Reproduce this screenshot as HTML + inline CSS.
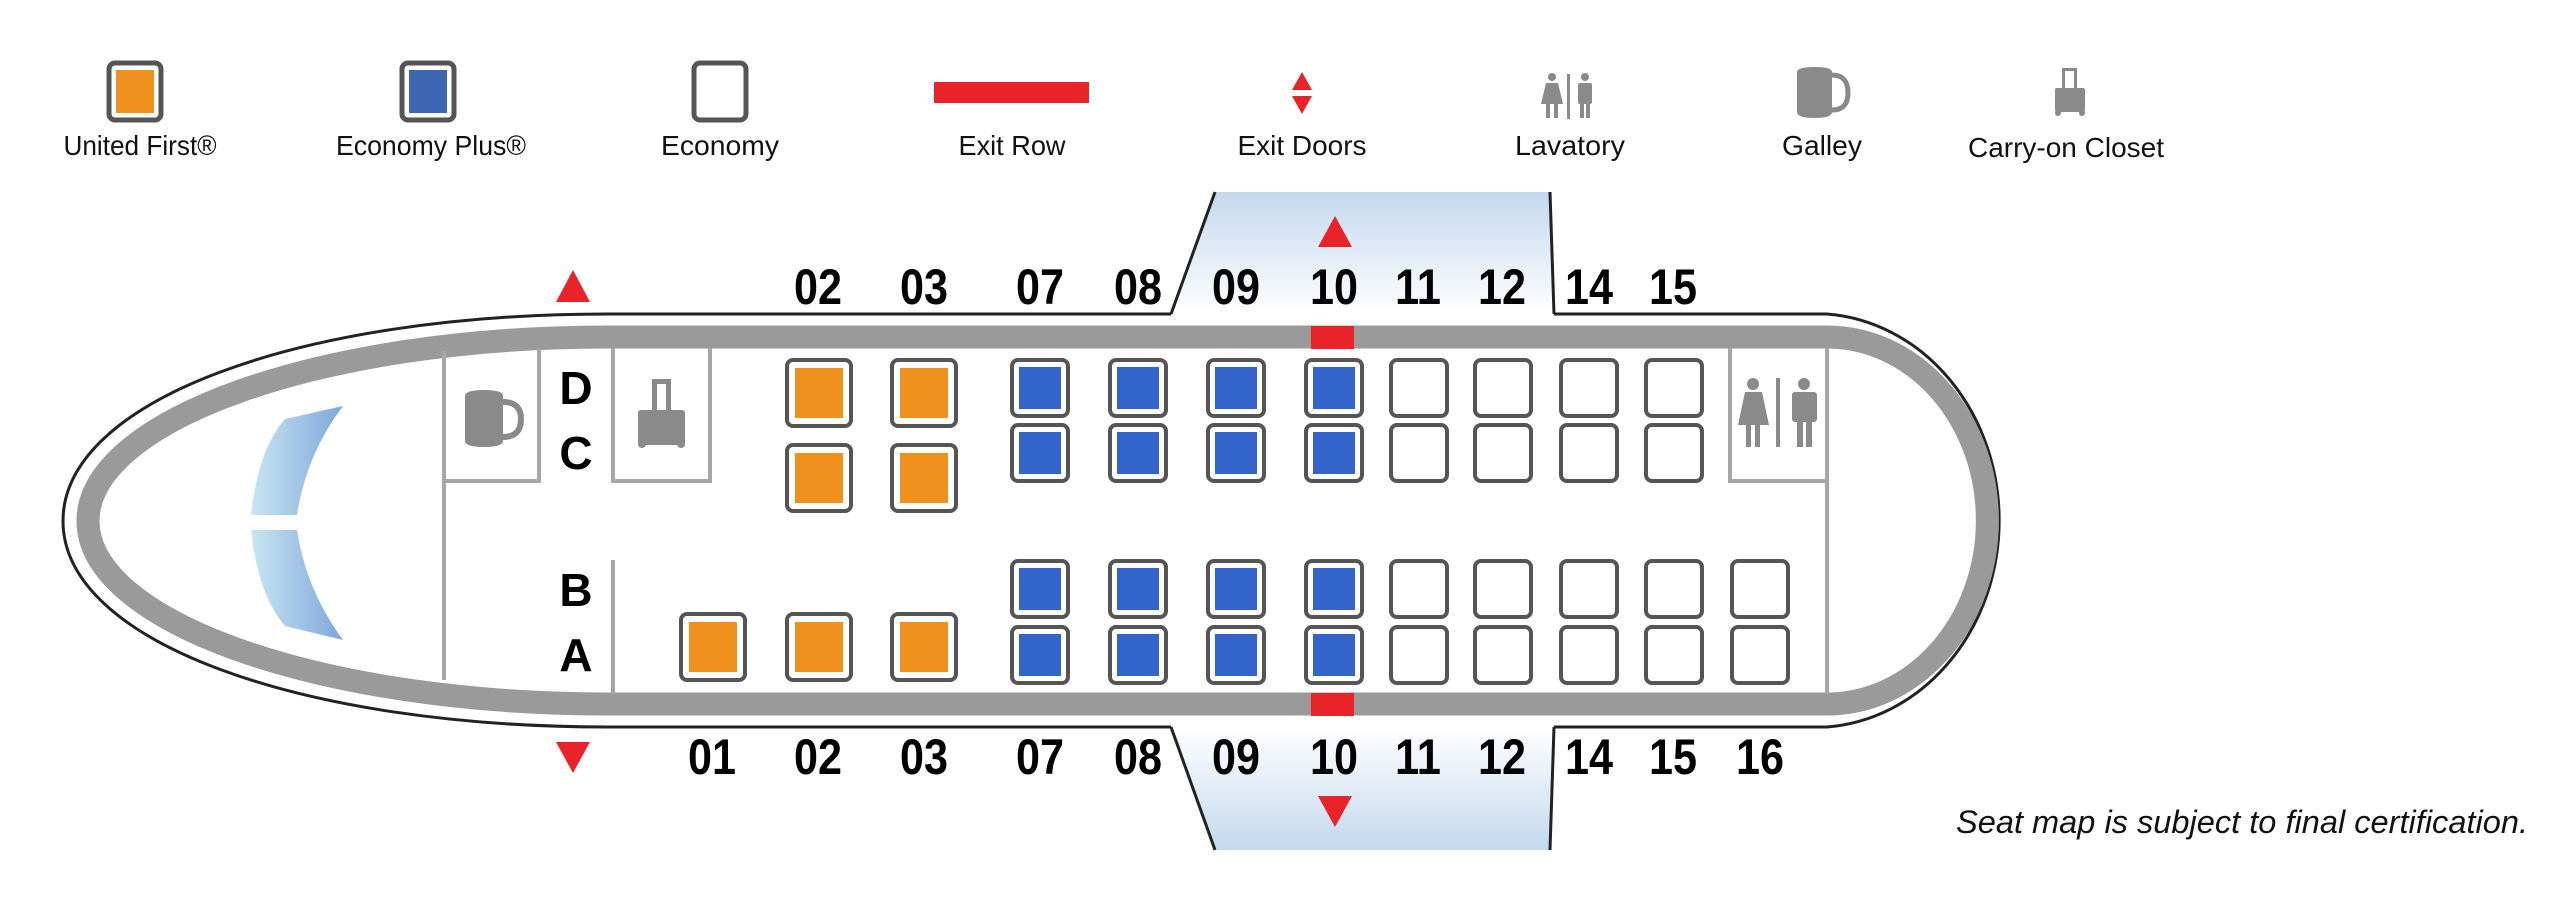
<!DOCTYPE html>
<html><head><meta charset="utf-8"><style>
html,body{margin:0;padding:0;background:#fff;}
svg{display:block;}
.n{font-family:"Liberation Sans Narrow","Liberation Sans",sans-serif;font-weight:bold;font-size:50px;fill:#000;text-anchor:middle;}
.k{font-family:"Liberation Sans",sans-serif;font-weight:bold;font-size:46px;fill:#000;text-anchor:middle;}
.l{font-family:"Liberation Sans",sans-serif;font-size:28px;fill:#111;text-anchor:middle;}
</style></head><body>
<svg width="2560" height="899" viewBox="0 0 2560 899" xmlns="http://www.w3.org/2000/svg">
<defs>
<linearGradient id="dt" x1="0" y1="0" x2="0" y2="1"><stop offset="0" stop-color="#c4d8ee"/><stop offset="1" stop-color="#ffffff"/></linearGradient>
<linearGradient id="db" x1="0" y1="0" x2="0" y2="1"><stop offset="0" stop-color="#ffffff"/><stop offset="1" stop-color="#c4d8ee"/></linearGradient>
<linearGradient id="ws" x1="0" y1="0" x2="1" y2="0"><stop offset="0" stop-color="#c8e6f2"/><stop offset="1" stop-color="#7fa6da"/></linearGradient>
</defs>

<g stroke="#555" stroke-width="5" fill="#fff">
<rect x="109" y="63" width="52" height="57" rx="6"/>
<rect x="402" y="63" width="52" height="57" rx="6"/>
<rect x="694" y="63" width="52" height="57" rx="6"/>
</g>
<rect x="116" y="70" width="38" height="43" fill="#f0901d"/>
<rect x="409" y="70" width="38" height="43" fill="#3d66b3"/>
<rect x="934" y="82" width="155" height="21" fill="#e8232a"/>
<polygon points="1302,72 1292,90 1312,90" fill="#e8232a"/>
<polygon points="1302,114 1292,96 1312,96" fill="#e8232a"/>
<g fill="#8a8a8a">
<circle cx="1552" cy="77" r="4"/><polygon points="1546,83 1558,83 1563,104 1541,104"/><rect x="1546" y="104" width="4" height="14"/><rect x="1554" y="104" width="4" height="14"/>
<rect x="1567" y="74" width="3" height="45"/>
<circle cx="1585" cy="77" r="4"/><rect x="1578" y="83" width="14" height="21" rx="2"/><rect x="1580" y="104" width="4" height="14"/><rect x="1586" y="104" width="4" height="14"/>
<path d="M1797,72 Q1797,67 1815,67 Q1832,67 1832,72 L1832,112 Q1832,118 1815,118 Q1797,118 1797,112 Z"/>
<path d="M1832,75 Q1848,75 1848,93 Q1848,110 1832,110" fill="none" stroke="#8a8a8a" stroke-width="5"/>
<rect x="2062" y="68" width="3" height="20"/><rect x="2074" y="68" width="3" height="20"/><rect x="2062" y="68" width="15" height="3"/>
<rect x="2055" y="88" width="30" height="24" rx="2"/><circle cx="2058" cy="113" r="3"/><circle cx="2082" cy="113" r="3"/>
</g>
<text class="l" x="140" y="155" textLength="153" lengthAdjust="spacingAndGlyphs">United First®</text>
<text class="l" x="431" y="155" textLength="190" lengthAdjust="spacingAndGlyphs">Economy Plus®</text>
<text class="l" x="720" y="155" textLength="118" lengthAdjust="spacingAndGlyphs">Economy</text>
<text class="l" x="1012" y="155" textLength="107" lengthAdjust="spacingAndGlyphs">Exit Row</text>
<text class="l" x="1302" y="155" textLength="129" lengthAdjust="spacingAndGlyphs">Exit Doors</text>
<text class="l" x="1570" y="155" textLength="110" lengthAdjust="spacingAndGlyphs">Lavatory</text>
<text class="l" x="1822" y="155" textLength="80" lengthAdjust="spacingAndGlyphs">Galley</text>
<text class="l" x="2066" y="157" textLength="196" lengthAdjust="spacingAndGlyphs">Carry-on Closet</text>

<polygon points="1215,192 1550,192 1554,314 1171,314" fill="url(#dt)"/>
<polygon points="1171,727 1554,727 1550,850 1215,850" fill="url(#db)"/>
<g stroke="#222" stroke-width="3" fill="none">
<polyline points="1215,192 1171,314"/>
<polyline points="1550,192 1554,314"/>
<polyline points="1171,727 1215,850"/>
<polyline points="1554,727 1550,850"/>
<path d="M1171,314 L608,314 C300,314 63,400 63,521 C63,642 300,727 608,727 L1171,727"/>
<path d="M1554,314 L1827,314 A185 207 0 0 1 1827,727 L1554,727"/>
</g>
<path d="M1827,337 L608,337 C320,337 88,420 88,521 C88,622 320,704 608,704 L1827,704 A160 183 0 0 0 1827,337 Z" fill="#fff" stroke="#9a9a9a" stroke-width="23"/>
<rect x="1311" y="326" width="43" height="23" fill="#e8232a"/>
<rect x="1311" y="693" width="43" height="23" fill="#e8232a"/>

<path d="M251,515 Q258,450 285,419 L343,406 Q306,455 297,515 Z" fill="url(#ws)"/>
<path d="M251,530 Q258,595 285,626 L343,640 Q306,590 297,530 Z" fill="url(#ws)"/>

<g stroke="#a6a6a6" stroke-width="4" fill="none">
<polyline points="444,351 444,481 539,481 539,348"/>
<line x1="444" y1="481" x2="444" y2="680"/>
<polyline points="613,348 613,481 710,481 710,348"/>
<line x1="613" y1="560" x2="613" y2="694"/>
<polyline points="1730,348 1730,481 1827,481"/>
<line x1="1827" y1="348" x2="1827" y2="694"/>
</g>
<g fill="#8a8a8a">
<path d="M465,396 Q465,390 484,390 Q503,390 503,396 L503,441 Q503,447 484,447 Q465,447 465,441 Z"/>
<path d="M503,402 Q521,402 521,419 Q521,437 503,437" fill="none" stroke="#8a8a8a" stroke-width="6"/>
<rect x="652" y="379" width="5" height="32"/><rect x="666" y="379" width="5" height="32"/><rect x="652" y="379" width="19" height="5"/>
<rect x="638" y="410" width="47" height="35" rx="3"/><circle cx="642" cy="444" r="4"/><circle cx="681" cy="444" r="4"/>
<circle cx="1753" cy="384" r="6"/><polygon points="1745,392 1762,392 1769,425 1738,425"/><rect x="1746" y="423" width="5" height="24"/><rect x="1755" y="423" width="5" height="24"/>
<rect x="1776" y="378" width="4" height="69"/>
<circle cx="1804" cy="384" r="6"/><rect x="1792" y="392" width="25" height="30" rx="3"/><rect x="1797" y="420" width="6" height="27"/><rect x="1806" y="420" width="6" height="27"/>
</g>

<g stroke="#555" stroke-width="4" fill="#fff">
<rect x="787" y="360" width="64" height="66" rx="6"/><rect x="892" y="360" width="64" height="66" rx="6"/>
<rect x="787" y="445" width="64" height="66" rx="6"/><rect x="892" y="445" width="64" height="66" rx="6"/>
<rect x="681" y="614" width="64" height="66" rx="6"/><rect x="787" y="614" width="64" height="66" rx="6"/><rect x="892" y="614" width="64" height="66" rx="6"/>
</g>
<g fill="#f0901d">
<rect x="795" y="368" width="48" height="50"/><rect x="900" y="368" width="48" height="50"/>
<rect x="795" y="453" width="48" height="50"/><rect x="900" y="453" width="48" height="50"/>
<rect x="689" y="622" width="48" height="50"/><rect x="795" y="622" width="48" height="50"/><rect x="900" y="622" width="48" height="50"/>
</g>
<g stroke="#555" stroke-width="4" fill="#fff">
<rect x="1012" y="360" width="56" height="56" rx="6"/><rect x="1110" y="360" width="56" height="56" rx="6"/><rect x="1208" y="360" width="56" height="56" rx="6"/><rect x="1306" y="360" width="56" height="56" rx="6"/>
<rect x="1012" y="425" width="56" height="56" rx="6"/><rect x="1110" y="425" width="56" height="56" rx="6"/><rect x="1208" y="425" width="56" height="56" rx="6"/><rect x="1306" y="425" width="56" height="56" rx="6"/>
<rect x="1012" y="561" width="56" height="56" rx="6"/><rect x="1110" y="561" width="56" height="56" rx="6"/><rect x="1208" y="561" width="56" height="56" rx="6"/><rect x="1306" y="561" width="56" height="56" rx="6"/>
<rect x="1012" y="627" width="56" height="56" rx="6"/><rect x="1110" y="627" width="56" height="56" rx="6"/><rect x="1208" y="627" width="56" height="56" rx="6"/><rect x="1306" y="627" width="56" height="56" rx="6"/>
</g>
<g fill="#3264cc">
<rect x="1019" y="367" width="42" height="42"/><rect x="1117" y="367" width="42" height="42"/><rect x="1215" y="367" width="42" height="42"/><rect x="1313" y="367" width="42" height="42"/>
<rect x="1019" y="432" width="42" height="42"/><rect x="1117" y="432" width="42" height="42"/><rect x="1215" y="432" width="42" height="42"/><rect x="1313" y="432" width="42" height="42"/>
<rect x="1019" y="568" width="42" height="42"/><rect x="1117" y="568" width="42" height="42"/><rect x="1215" y="568" width="42" height="42"/><rect x="1313" y="568" width="42" height="42"/>
<rect x="1019" y="634" width="42" height="42"/><rect x="1117" y="634" width="42" height="42"/><rect x="1215" y="634" width="42" height="42"/><rect x="1313" y="634" width="42" height="42"/>
</g>
<g stroke="#555" stroke-width="4" fill="#fff">
<rect x="1391" y="360" width="56" height="56" rx="6"/><rect x="1475" y="360" width="56" height="56" rx="6"/><rect x="1561" y="360" width="56" height="56" rx="6"/><rect x="1646" y="360" width="56" height="56" rx="6"/>
<rect x="1391" y="425" width="56" height="56" rx="6"/><rect x="1475" y="425" width="56" height="56" rx="6"/><rect x="1561" y="425" width="56" height="56" rx="6"/><rect x="1646" y="425" width="56" height="56" rx="6"/>
<rect x="1391" y="561" width="56" height="56" rx="6"/><rect x="1475" y="561" width="56" height="56" rx="6"/><rect x="1561" y="561" width="56" height="56" rx="6"/><rect x="1646" y="561" width="56" height="56" rx="6"/><rect x="1732" y="561" width="56" height="56" rx="6"/>
<rect x="1391" y="627" width="56" height="56" rx="6"/><rect x="1475" y="627" width="56" height="56" rx="6"/><rect x="1561" y="627" width="56" height="56" rx="6"/><rect x="1646" y="627" width="56" height="56" rx="6"/><rect x="1732" y="627" width="56" height="56" rx="6"/>
</g>

<g fill="#e8232a">
<polygon points="573,270 556,302 590,302"/>
<polygon points="573,773 556,742 590,742"/>
<polygon points="1335,216 1318,247 1352,247"/>
<polygon points="1335,827 1318,796 1352,796"/>
</g>

<text class="k" x="576" y="404">D</text>
<text class="k" x="576" y="469">C</text>
<text class="k" x="576" y="606">B</text>
<text class="k" x="576" y="671">A</text>

<g>
<text class="n" x="818" y="304" textLength="48" lengthAdjust="spacingAndGlyphs">02</text><text class="n" x="924" y="304" textLength="48" lengthAdjust="spacingAndGlyphs">03</text>
<text class="n" x="1040" y="304" textLength="48" lengthAdjust="spacingAndGlyphs">07</text><text class="n" x="1138" y="304" textLength="48" lengthAdjust="spacingAndGlyphs">08</text>
<text class="n" x="1236" y="304" textLength="48" lengthAdjust="spacingAndGlyphs">09</text><text class="n" x="1334" y="304" textLength="48" lengthAdjust="spacingAndGlyphs">10</text>
<text class="n" x="1418" y="304" textLength="46" lengthAdjust="spacingAndGlyphs">11</text><text class="n" x="1502" y="304" textLength="48" lengthAdjust="spacingAndGlyphs">12</text>
<text class="n" x="1589" y="304" textLength="48" lengthAdjust="spacingAndGlyphs">14</text><text class="n" x="1673" y="304" textLength="48" lengthAdjust="spacingAndGlyphs">15</text>
<text class="n" x="712" y="774" textLength="48" lengthAdjust="spacingAndGlyphs">01</text><text class="n" x="818" y="774" textLength="48" lengthAdjust="spacingAndGlyphs">02</text><text class="n" x="924" y="774" textLength="48" lengthAdjust="spacingAndGlyphs">03</text>
<text class="n" x="1040" y="774" textLength="48" lengthAdjust="spacingAndGlyphs">07</text><text class="n" x="1138" y="774" textLength="48" lengthAdjust="spacingAndGlyphs">08</text>
<text class="n" x="1236" y="774" textLength="48" lengthAdjust="spacingAndGlyphs">09</text><text class="n" x="1334" y="774" textLength="48" lengthAdjust="spacingAndGlyphs">10</text>
<text class="n" x="1418" y="774" textLength="46" lengthAdjust="spacingAndGlyphs">11</text><text class="n" x="1502" y="774" textLength="48" lengthAdjust="spacingAndGlyphs">12</text>
<text class="n" x="1589" y="774" textLength="48" lengthAdjust="spacingAndGlyphs">14</text><text class="n" x="1673" y="774" textLength="48" lengthAdjust="spacingAndGlyphs">15</text><text class="n" x="1760" y="774" textLength="48" lengthAdjust="spacingAndGlyphs">16</text>
</g>

<text x="2528" y="833" text-anchor="end" font-family="Liberation Sans, sans-serif" font-style="italic" font-size="32" fill="#111" textLength="572" lengthAdjust="spacingAndGlyphs">Seat map is subject to final certification.</text>
</svg>
</body></html>
